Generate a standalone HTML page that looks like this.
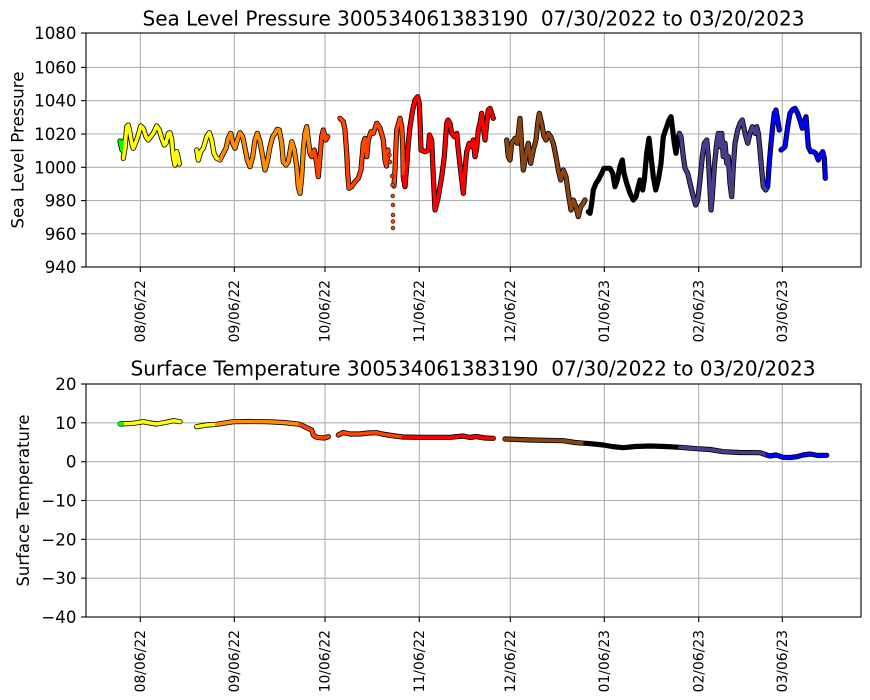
<!DOCTYPE html>
<html><head><meta charset="utf-8"><style>
html,body{margin:0;padding:0;background:#fff;}
svg{display:block;font-family:"DejaVu Sans","Liberation Sans",sans-serif;}
.g{stroke:#b0b0b0;stroke-width:1.1;}
.o{fill:none;stroke:#000;stroke-width:5.2;stroke-linejoin:round;stroke-linecap:round;}
.c{fill:none;stroke-width:3.6;stroke-linejoin:round;stroke-linecap:round;}
.yt{font-size:16.67px;text-anchor:end;}
.xt{font-size:13.9px;text-anchor:end;}
</style></head><body>
<svg width="870" height="700" viewBox="0 0 870 700" xmlns="http://www.w3.org/2000/svg">
<rect width="870" height="700" fill="#fff"/>

<!-- ===== TOP PLOT ===== -->
<text x="473.5" y="25.5" font-size="20" text-anchor="middle" textLength="662" lengthAdjust="spacingAndGlyphs">Sea Level Pressure 300534061383190 &#160;07/30/2022 to 03/20/2023</text>
<g class="g">
<line x1="140.3" y1="33" x2="140.3" y2="267"/><line x1="234.3" y1="33" x2="234.3" y2="267"/>
<line x1="325" y1="33" x2="325" y2="267"/><line x1="419.3" y1="33" x2="419.3" y2="267"/>
<line x1="510.3" y1="33" x2="510.3" y2="267"/><line x1="604.3" y1="33" x2="604.3" y2="267"/>
<line x1="698.7" y1="33" x2="698.7" y2="267"/><line x1="782.3" y1="33" x2="782.3" y2="267"/>
<line x1="86" y1="67.4" x2="861" y2="67.4"/><line x1="86" y1="100.7" x2="861" y2="100.7"/>
<line x1="86" y1="134" x2="861" y2="134"/><line x1="86" y1="167.3" x2="861" y2="167.3"/>
<line x1="86" y1="200.6" x2="861" y2="200.6"/><line x1="86" y1="233.8" x2="861" y2="233.8"/>
</g>

<!-- pressure outlines -->
<g class="o">
<polyline points="120,141 121,146 122,150 123,145 124,141"/>
<polyline points="123.3,158.3 125,148 126.7,126.7 128.3,125 130,133 131.7,143.3 133.3,148.3 136,141.7 138.3,135 140.7,126 143.3,128.3 146,136.7 148.3,140 150.7,136.7 153.3,133.3 156.7,126 159.3,130 161.7,138.3 164.3,145 166,143.3 168.3,133.3 170,132.7 171.7,140 173.3,156.7 175,165 176.7,151.7 178.3,158.3 179.3,164"/>
<polyline points="196.7,150 198.3,160 200.7,151.7 203.3,148.3 206.7,136.7 209.3,132.7 211.7,140 214,153.3 216.7,158.3 220,160 223.3,153.3 226,148.3 228.3,138.3 230.7,133.3 232.7,143.3 235,148.3 237.3,140 240,132.7 242.7,136.7 245,148.3 247.3,160 250,166.7 252.7,156.7 255,140 257.3,133.3 260,141.7 262.7,156.7 265,170 267.3,161.7 270,146.7 272.7,136.7 275,133.3 277.3,129.3 279.3,130 281.7,143.3 283.3,161.7 286,165 288.3,161.7 291.7,141.7 294.3,150 296.7,166.7 298.3,186.7 300,193.3 301.7,176.7 303.3,150 305,133.3 306.7,126.7 308.3,140 310,153.3 311.7,156.7 314.3,150 316.7,163.3 318.3,176.7 320,156.7 321.7,136.7 323.3,130 325.7,140 327.7,136.7"/>
<polyline points="340,118.3 343.3,121.7 345,130 346.7,153.3 347.7,173.3 349,188.3 351.7,186.7 355,181.7 358.3,178.3 361,170 363.3,143.3 365,138.3 366.7,156.7 368.3,140 371,131.7 373.3,133.3 376.7,123.3 380,128 383.3,140 385,160 386.5,166 388,150"/>
<polyline points="394,186 395,170 396.7,130 400,118.3 401.7,126.7 402.7,143.3 403.3,176.7 405,186.7 406.7,166.7 408.3,143.3 410,126.7 412.7,110 415,100 417.7,96.7 419.3,103.3 420,120 421,150 425,151.7 428.3,150 429.5,135 431.7,140 433,170 435,210 437.7,200 441.7,176.7 444.3,156.7 446.7,123.3 448,120 450,123.3 451.7,133.3 454.3,136.7 456.7,133.3 458.3,150 461,173.3 463.3,193.3 465,170 466.7,151.7 469.3,143.3 471.7,146.7 473.3,140 475,156.7 476.7,148.3 478.3,130 480,123.3 481.7,113.3 483.3,126.7 485,140 486.7,123.3 488.3,110 490,108.3 491.7,113.3 493.3,118.3"/>
<polyline points="506.7,140 508.3,156.7 510,160 511.7,143.3 515,138.3 517.3,143.3 520,118.3 521.7,146.7 523.3,170 525.7,156.7 528.3,143.3 530.7,163.3 533.3,150 536,140 537.7,123.3 539.3,113.3 541.7,123.3 544,136.7 546,140 548.3,133.3 550.7,136.7 553.3,143.3 556,156.7 558.3,170 560.7,180 563.3,170 566,176.7 568.3,193.3 571,210 573.3,200 576,206.7 578.3,216.7 580.7,206.7 583.3,203.3 585,200"/>
<polyline points="588.3,211.7 590,213.3 591.7,203.3 593.3,190 596,183.3 598.3,180 601.7,173.3 604,168.3 607.3,168.3 610,168.3 612.7,173.3 615,186.7 617.3,180 620,166.7 622.3,160 624,173.3 626.7,183.3 630,193.3 633.3,200 636,196.7 638.3,186.7 640,180 642.7,190 644.3,180 646.7,153.3 649,138.3 651,156.7 653.3,176.7 655.7,190 658.3,180 661,163.3 663.3,136.7 666.7,126.7 669,120 671,116.7 672.7,130 674.3,143.3 676,153.3 677.7,140 679.3,133.3 681,136.7 683.3,156.7 685,168.3 687.7,173.3 690,183.3 693.3,196.7 695.7,205 697.7,200 700,180 702.3,156.7 704.3,143.3 706.7,140 708.3,156.7 710,190 711,210 712.3,196.7 714.3,166.7 716.7,143.3 718.3,133.3 720,146.7 721.7,133.3 723.3,156.7 725,143.3 726.7,163.3 728.3,156.7 730,183.3 731.7,196.7 733.3,166.7 735,143.3 737.7,130 740,123.3 742.3,120 745,133.3 747.7,143.3 750,133.3 752.3,126.7 755,133.3 756.7,126.7 758.3,133.3 760,150 761.7,170 763.3,186.7 765.7,190 767.7,186.7 769,166.7 771,143.3 772.7,126.7 774.3,113.3 776,110 777.7,120 779.3,130"/>
<polyline points="781,150 783.3,148.3 785,146.7 787.7,126.7 790,113.3 792.3,110 795,108.3 797.7,113.3 800,120 802.3,128.3 804.3,121.7 806,116.7 807.3,133.3 808.3,146.7 810.7,151.7 813.3,151.7 815.7,153.3 818.3,160 820.7,155 822.7,151.7 824.3,158.3 825.3,178.3"/>
</g>
<!-- pressure colors -->
<polyline class="c" stroke="#00ff00" points="120,141 121,146 122,150 123,145 124,141"/>
<polyline class="c" stroke="#ffff00" points="123.3,158.3 125,148 126.7,126.7 128.3,125 130,133 131.7,143.3 133.3,148.3 136,141.7 138.3,135 140.7,126 143.3,128.3 146,136.7 148.3,140 150.7,136.7 153.3,133.3 156.7,126 159.3,130 161.7,138.3 164.3,145 166,143.3 168.3,133.3 170,132.7 171.7,140 173.3,156.7 175,165 176.7,151.7 178.3,158.3 179.3,164"/>
<polyline class="c" stroke="#ffff00" points="196.7,150 198.3,160 200.7,151.7 203.3,148.3 206.7,136.7 209.3,132.7 211.7,140 214,153.3 216.7,158.3 220,160"/>
<polyline class="c" stroke="#ff8c00" points="220,160 223.3,153.3 226,148.3 228.3,138.3 230.7,133.3 232.7,143.3 235,148.3 237.3,140 240,132.7 242.7,136.7 245,148.3 247.3,160 250,166.7 252.7,156.7 255,140 257.3,133.3 260,141.7 262.7,156.7 265,170 267.3,161.7 270,146.7 272.7,136.7 275,133.3 277.3,129.3 279.3,130 281.7,143.3 283.3,161.7 286,165 288.3,161.7 291.7,141.7 294.3,150 296.7,166.7 298.3,186.7 300,193.3 301.7,176.7 303.3,150 305,133.3 306.7,126.7 308.3,140 310,153.3"/>
<polyline class="c" stroke="#ff4500" points="310,153.3 311.7,156.7 314.3,150 316.7,163.3 318.3,176.7 320,156.7 321.7,136.7 323.3,130 325.7,140 327.7,136.7"/>
<polyline class="c" stroke="#ff4500" points="340,118.3 343.3,121.7 345,130 346.7,153.3 347.7,173.3 349,188.3 351.7,186.7 355,181.7 358.3,178.3 361,170 363.3,143.3 365,138.3 366.7,156.7 368.3,140 371,131.7 373.3,133.3 376.7,123.3 380,128 383.3,140 385,160 386.5,166 388,150"/>
<polyline class="c" stroke="#ff4500" points="394,186 395,170 396.7,130 400,118.3 401.7,126.7 402.7,143.3 403.3,176.7"/>
<polyline class="c" stroke="#ff0000" points="403.3,176.7 405,186.7 406.7,166.7 408.3,143.3 410,126.7 412.7,110 415,100 417.7,96.7 419.3,103.3 420,120 421,150 425,151.7 428.3,150 429.5,135 431.7,140 433,170 435,210 437.7,200 441.7,176.7 444.3,156.7 446.7,123.3 448,120 450,123.3 451.7,133.3 454.3,136.7 456.7,133.3 458.3,150 461,173.3 463.3,193.3 465,170 466.7,151.7 469.3,143.3 471.7,146.7 473.3,140 475,156.7 476.7,148.3 478.3,130 480,123.3 481.7,113.3 483.3,126.7 485,140 486.7,123.3 488.3,110 490,108.3 491.7,113.3 493.3,118.3"/>
<polyline class="c" stroke="#8b4513" points="506.7,140 508.3,156.7 510,160 511.7,143.3 515,138.3 517.3,143.3 520,118.3 521.7,146.7 523.3,170 525.7,156.7 528.3,143.3 530.7,163.3 533.3,150 536,140 537.7,123.3 539.3,113.3 541.7,123.3 544,136.7 546,140 548.3,133.3 550.7,136.7 553.3,143.3 556,156.7 558.3,170 560.7,180 563.3,170 566,176.7 568.3,193.3 571,210 573.3,200 576,206.7 578.3,216.7 580.7,206.7 583.3,203.3 585,200"/>
<polyline class="c" stroke="#000000" points="588.3,211.7 590,213.3 591.7,203.3 593.3,190 596,183.3 598.3,180 601.7,173.3 604,168.3 607.3,168.3 610,168.3 612.7,173.3 615,186.7 617.3,180 620,166.7 622.3,160 624,173.3 626.7,183.3 630,193.3 633.3,200 636,196.7 638.3,186.7 640,180 642.7,190 644.3,180 646.7,153.3 649,138.3 651,156.7 653.3,176.7 655.7,190 658.3,180 661,163.3 663.3,136.7 666.7,126.7 669,120 671,116.7 672.7,130 674.3,143.3 676,153.3 677.7,140 679.3,133.3"/>
<polyline class="c" stroke="#483d8b" points="679.3,133.3 681,136.7 683.3,156.7 685,168.3 687.7,173.3 690,183.3 693.3,196.7 695.7,205 697.7,200 700,180 702.3,156.7 704.3,143.3 706.7,140 708.3,156.7 710,190 711,210 712.3,196.7 714.3,166.7 716.7,143.3 718.3,133.3 720,146.7 721.7,133.3 723.3,156.7 725,143.3 726.7,163.3 728.3,156.7 730,183.3 731.7,196.7 733.3,166.7 735,143.3 737.7,130 740,123.3 742.3,120 745,133.3 747.7,143.3 750,133.3 752.3,126.7 755,133.3 756.7,126.7 758.3,133.3 760,150 761.7,170 763.3,186.7 765.7,190 767.7,186.7"/>
<polyline class="c" stroke="#0000ff" points="767.7,186.7 769,166.7 771,143.3 772.7,126.7 774.3,113.3 776,110 777.7,120 779.3,130"/>
<polyline class="c" stroke="#0000ff" points="781,150 783.3,148.3 785,146.7 787.7,126.7 790,113.3 792.3,110 795,108.3 797.7,113.3 800,120 802.3,128.3 804.3,121.7 806,116.7 807.3,133.3 808.3,146.7 810.7,151.7 813.3,151.7 815.7,153.3 818.3,160 820.7,155 822.7,151.7 824.3,158.3 825.3,178.3"/>
<!-- isolated dots -->
<g fill="#ff4500" stroke="#000" stroke-width="0.6">
<circle cx="389.5" cy="155" r="1.9"/><circle cx="390" cy="162" r="1.9"/>
<circle cx="392" cy="176" r="1.9"/><circle cx="392.5" cy="185" r="1.9"/>
<circle cx="392.7" cy="196" r="1.9"/><circle cx="393" cy="205" r="1.9"/>
<circle cx="393" cy="215" r="1.9"/><circle cx="393" cy="221.5" r="1.9"/>
<circle cx="393" cy="228" r="1.9"/>
</g>

<!-- top axes frame & ticks -->
<rect x="86" y="33" width="775" height="234" fill="none" stroke="#000" stroke-width="1.1"/>
<g stroke="#000" stroke-width="1.1">
<line x1="81" y1="33" x2="86" y2="33"/><line x1="81" y1="67.4" x2="86" y2="67.4"/><line x1="81" y1="100.7" x2="86" y2="100.7"/><line x1="81" y1="134" x2="86" y2="134"/><line x1="81" y1="167.3" x2="86" y2="167.3"/><line x1="81" y1="200.6" x2="86" y2="200.6"/><line x1="81" y1="233.8" x2="86" y2="233.8"/><line x1="81" y1="267" x2="86" y2="267"/>
<line x1="140.3" y1="267" x2="140.3" y2="272"/><line x1="234.3" y1="267" x2="234.3" y2="272"/><line x1="325" y1="267" x2="325" y2="272"/><line x1="419.3" y1="267" x2="419.3" y2="272"/><line x1="510.3" y1="267" x2="510.3" y2="272"/><line x1="604.3" y1="267" x2="604.3" y2="272"/><line x1="698.7" y1="267" x2="698.7" y2="272"/><line x1="782.3" y1="267" x2="782.3" y2="272"/>
</g>
<g class="yt">
<text x="76.5" y="39">1080</text><text x="76.5" y="73.4">1060</text><text x="76.5" y="106.7">1040</text><text x="76.5" y="140">1020</text><text x="76.5" y="173.3">1000</text><text x="76.5" y="206.6">980</text><text x="76.5" y="239.8">960</text><text x="76.5" y="273">940</text>
</g>
<g class="xt">
<text transform="translate(145,280) rotate(-90)">08/06/22</text>
<text transform="translate(239,280) rotate(-90)">09/06/22</text>
<text transform="translate(329.7,280) rotate(-90)">10/06/22</text>
<text transform="translate(424,280) rotate(-90)">11/06/22</text>
<text transform="translate(515,280) rotate(-90)">12/06/22</text>
<text transform="translate(609,280) rotate(-90)">01/06/23</text>
<text transform="translate(703.4,280) rotate(-90)">02/06/23</text>
<text transform="translate(787,280) rotate(-90)">03/06/23</text>
</g>
<text transform="translate(23.5,150) rotate(-90)" font-size="16.67" text-anchor="middle" textLength="157" lengthAdjust="spacingAndGlyphs">Sea Level Pressure</text>

<!-- ===== BOTTOM PLOT ===== -->
<text x="473" y="375.5" font-size="20" text-anchor="middle" textLength="685" lengthAdjust="spacingAndGlyphs">Surface Temperature 300534061383190 &#160;07/30/2022 to 03/20/2023</text>
<g class="g">
<line x1="140.3" y1="384" x2="140.3" y2="617"/><line x1="234.3" y1="384" x2="234.3" y2="617"/>
<line x1="325" y1="384" x2="325" y2="617"/><line x1="419.3" y1="384" x2="419.3" y2="617"/>
<line x1="510.3" y1="384" x2="510.3" y2="617"/><line x1="604.3" y1="384" x2="604.3" y2="617"/>
<line x1="698.7" y1="384" x2="698.7" y2="617"/><line x1="782.3" y1="384" x2="782.3" y2="617"/>
<line x1="86" y1="422.8" x2="861" y2="422.8"/><line x1="86" y1="461.7" x2="861" y2="461.7"/>
<line x1="86" y1="500.5" x2="861" y2="500.5"/><line x1="86" y1="539.3" x2="861" y2="539.3"/>
<line x1="86" y1="578.2" x2="861" y2="578.2"/>
</g>
<g class="o">
<polyline points="120,424 133.3,423.3 143.3,421.7 150,423 156.7,424 165,422.5 173.3,420.7 180,421.7"/>
<polyline points="196.7,426.7 206.7,425 216.7,424.3 233.3,421.7 250,421.5 266.7,421.7 283.3,422.5 300,424.3 306.7,427.7 311.7,430 313.3,435 316,437 320,437.7 324,438 328.3,436.7"/>
<polyline points="338.3,435 343.3,432.5 350,434 360,434 368,433 376.7,432.7 382,434 388.3,435 395,436 403,437 420,437.3 435,437.3 450,437.3 463.3,436 470,437.5 476,436.5 485,438 493.3,438.3"/>
<polyline points="505,439 530,440 563.3,440.7 575,442.5 585,443.3 586.7,443.3 603.3,445 612,446.5 623.3,447.7 635,446.5 650,446 665,446.5 680,447.3 696.7,448.7 710,449.5 723.3,451.7 740,452.5 760,452.7 766.7,455 770,456 776,455 783.3,457.3 790,457.5 796.7,456.7 803,455 810,454 818,455.5 826.7,455.3"/>
</g>
<polyline class="c" stroke="#ffff00" points="120,424 133.3,423.3 143.3,421.7 150,423 156.7,424 165,422.5 173.3,420.7 180,421.7"/>
<polyline class="c" stroke="#00ff00" points="119.5,424 122.5,424"/>
<polyline class="c" stroke="#ffff00" points="196.7,426.7 206.7,425 216.7,424.3"/>
<polyline class="c" stroke="#ff8c00" points="216.7,424.3 233.3,421.7 250,421.5 266.7,421.7 283.3,422.5 300,424.3"/>
<polyline class="c" stroke="#ff4500" points="300,424.3 306.7,427.7 311.7,430 313.3,435 316,437 320,437.7 324,438 328.3,436.7"/>
<polyline class="c" stroke="#ff4500" points="338.3,435 343.3,432.5 350,434 360,434 368,433 376.7,432.7 382,434 388.3,435 395,436 403,437"/>
<polyline class="c" stroke="#ff0000" points="403,437 420,437.3 435,437.3 450,437.3 463.3,436 470,437.5 476,436.5 485,438 493.3,438.3"/>
<polyline class="c" stroke="#8b4513" points="505,439 530,440 563.3,440.7 575,442.5 585,443.3"/>
<polyline class="c" stroke="#000000" points="585,443.3 603.3,445 612,446.5 623.3,447.7 635,446.5 650,446 665,446.5 680,447.3"/>
<polyline class="c" stroke="#483d8b" points="680,447.3 696.7,448.7 710,449.5 723.3,451.7 740,452.5 760,452.7 766.7,455"/>
<polyline class="c" stroke="#0000ff" points="766.7,455 770,456 776,455 783.3,457.3 790,457.5 796.7,456.7 803,455 810,454 818,455.5 826.7,455.3"/>

<rect x="86" y="384" width="775" height="233" fill="none" stroke="#000" stroke-width="1.1"/>
<g stroke="#000" stroke-width="1.1">
<line x1="81" y1="384" x2="86" y2="384"/><line x1="81" y1="422.8" x2="86" y2="422.8"/><line x1="81" y1="461.7" x2="86" y2="461.7"/><line x1="81" y1="500.5" x2="86" y2="500.5"/><line x1="81" y1="539.3" x2="86" y2="539.3"/><line x1="81" y1="578.2" x2="86" y2="578.2"/><line x1="81" y1="617" x2="86" y2="617"/>
<line x1="140.3" y1="617" x2="140.3" y2="622"/><line x1="234.3" y1="617" x2="234.3" y2="622"/><line x1="325" y1="617" x2="325" y2="622"/><line x1="419.3" y1="617" x2="419.3" y2="622"/><line x1="510.3" y1="617" x2="510.3" y2="622"/><line x1="604.3" y1="617" x2="604.3" y2="622"/><line x1="698.7" y1="617" x2="698.7" y2="622"/><line x1="782.3" y1="617" x2="782.3" y2="622"/>
</g>
<g class="yt">
<text x="76.5" y="390">20</text><text x="76.5" y="428.8">10</text><text x="76.5" y="467.7">0</text><text x="76.5" y="506.5">−10</text><text x="76.5" y="545.3">−20</text><text x="76.5" y="584.2">−30</text><text x="76.5" y="623">−40</text>
</g>
<g class="xt">
<text transform="translate(145,630) rotate(-90)">08/06/22</text>
<text transform="translate(239,630) rotate(-90)">09/06/22</text>
<text transform="translate(329.7,630) rotate(-90)">10/06/22</text>
<text transform="translate(424,630) rotate(-90)">11/06/22</text>
<text transform="translate(515,630) rotate(-90)">12/06/22</text>
<text transform="translate(609,630) rotate(-90)">01/06/23</text>
<text transform="translate(703.4,630) rotate(-90)">02/06/23</text>
<text transform="translate(787,630) rotate(-90)">03/06/23</text>
</g>
<text transform="translate(29,500.5) rotate(-90)" font-size="16.67" text-anchor="middle" textLength="172" lengthAdjust="spacingAndGlyphs">Surface Temperature</text>
</svg>
</body></html>
